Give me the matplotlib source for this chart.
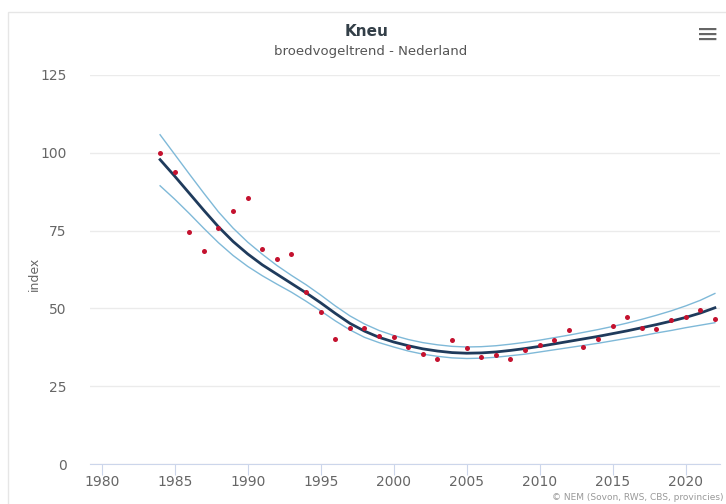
import matplotlib
matplotlib.use("Agg")
import matplotlib.pyplot as plt
from matplotlib.patches import Rectangle

plt.rcParams["font.family"] = ["Liberation Sans Narrow", "DejaVu Sans"]

# index values per year (dots)
years = list(range(1984, 2023))
index = [100.0, 93.8, 74.6, 68.4, 75.9, 81.4, 85.4, 69.2, 65.9, 67.6,
         55.2, 48.9, 40.1, 43.7, 43.8, 41.1, 40.9, 37.7, 35.3, 33.7,
         39.8, 37.4, 34.4, 35.0, 33.7, 36.6, 38.2, 39.8, 43.0, 37.7,
         40.1, 44.3, 47.3, 43.8, 43.5, 46.2, 47.2, 49.4, 46.7]

# smoothed trend and its bounds
trend = [97.8, 92.5, 87.0, 81.5, 76.2, 71.5, 67.5, 64.0, 61.0, 58.0,
         55.0, 51.8, 48.4, 45.2, 42.7, 40.7, 39.2, 38.0, 37.0, 36.3,
         35.8, 35.6, 35.7, 36.0, 36.5, 37.1, 37.8, 38.6, 39.4, 40.2,
         41.0, 41.9, 42.8, 43.8, 44.8, 45.9, 47.1, 48.5, 50.2]
upper = [105.8, 99.5, 93.2, 87.0, 81.0, 75.8, 71.3, 67.4, 63.8, 60.6,
         57.6, 54.3, 50.8, 47.6, 45.0, 42.9, 41.3, 40.0, 39.0, 38.3,
         37.8, 37.6, 37.7, 38.0, 38.5, 39.1, 39.8, 40.6, 41.4, 42.3,
         43.2, 44.2, 45.3, 46.5, 47.8, 49.2, 50.8, 52.6, 54.8]
lower = [89.4, 85.1, 80.5, 75.7, 71.1, 67.0, 63.5, 60.5, 57.8, 55.2,
         52.3, 49.2, 46.0, 43.1, 40.7, 39.0, 37.6, 36.3, 35.3, 34.6,
         34.1, 33.9, 34.0, 34.3, 34.8, 35.3, 36.0, 36.7, 37.4, 38.1,
         38.8, 39.6, 40.4, 41.2, 42.1, 42.9, 43.8, 44.6, 45.4]

x_ticks = [1980, 1985, 1990, 1995, 2000, 2005, 2010, 2015, 2020]
y_ticks = [0, 25, 50, 75, 100, 125]

fig = plt.figure(figsize=(7.26, 5.04), dpi=100)

# card border
fig.patches.append(Rectangle((8 / 726, -0.1), 1.0, 1.1 - 12 / 504,
                             transform=fig.transFigure, fill=False,
                             edgecolor="#e6e6e6", linewidth=1))

ax = fig.add_axes([90 / 726, 1 - 464 / 504, 630 / 726, 389 / 504])

ax.plot(years, upper, color="#7fb9d8", linewidth=1.0, zorder=2)
ax.plot(years, lower, color="#7fb9d8", linewidth=1.0, zorder=2)
ax.plot(years, trend, color="#1f3b5c", linewidth=2.0, zorder=3)
ax.scatter(years, index, s=13, color="#c4122f", zorder=4, linewidths=0)

ax.set_xlim(1979.2, 2022.35)
ax.set_ylim(0, 125)
ax.set_xticks(x_ticks)
ax.set_yticks(y_ticks)

ax.grid(axis="y", color="#ebebeb", linewidth=1)
ax.set_axisbelow(True)
for s in ["top", "right", "left"]:
    ax.spines[s].set_visible(False)
ax.spines["bottom"].set_color("#ccd6eb")
ax.tick_params(axis="x", length=8, color="#ccd6eb", labelsize=10,
               labelcolor="#666666", pad=0)
ax.tick_params(axis="y", length=0, labelsize=10, labelcolor="#666666", pad=17)
ax.set_ylabel("index", fontsize=9, color="#666666")
ax.yaxis.set_label_coords(-0.078, 0.49)

fig.text(367 / 726, 1 - 32 / 504, "Kneu", ha="center", va="center",
         fontsize=11, fontweight="bold", color="#333f48")
fig.text(371 / 726, 1 - 52 / 504, "broedvogeltrend - Nederland",
         ha="center", va="center", fontsize=9.5, color="#555555")
fig.text(708 / 726, 1 - 35 / 504, "≡", ha="center", va="center",
         fontsize=20, color="#666666", family="DejaVu Sans")
fig.text(724 / 726, 1 - 498 / 504, "© NEM (Sovon, RWS, CBS, provincies)",
         ha="right", va="center", fontsize=6.5, color="#999999")

fig.savefig("out.png", dpi=100)
